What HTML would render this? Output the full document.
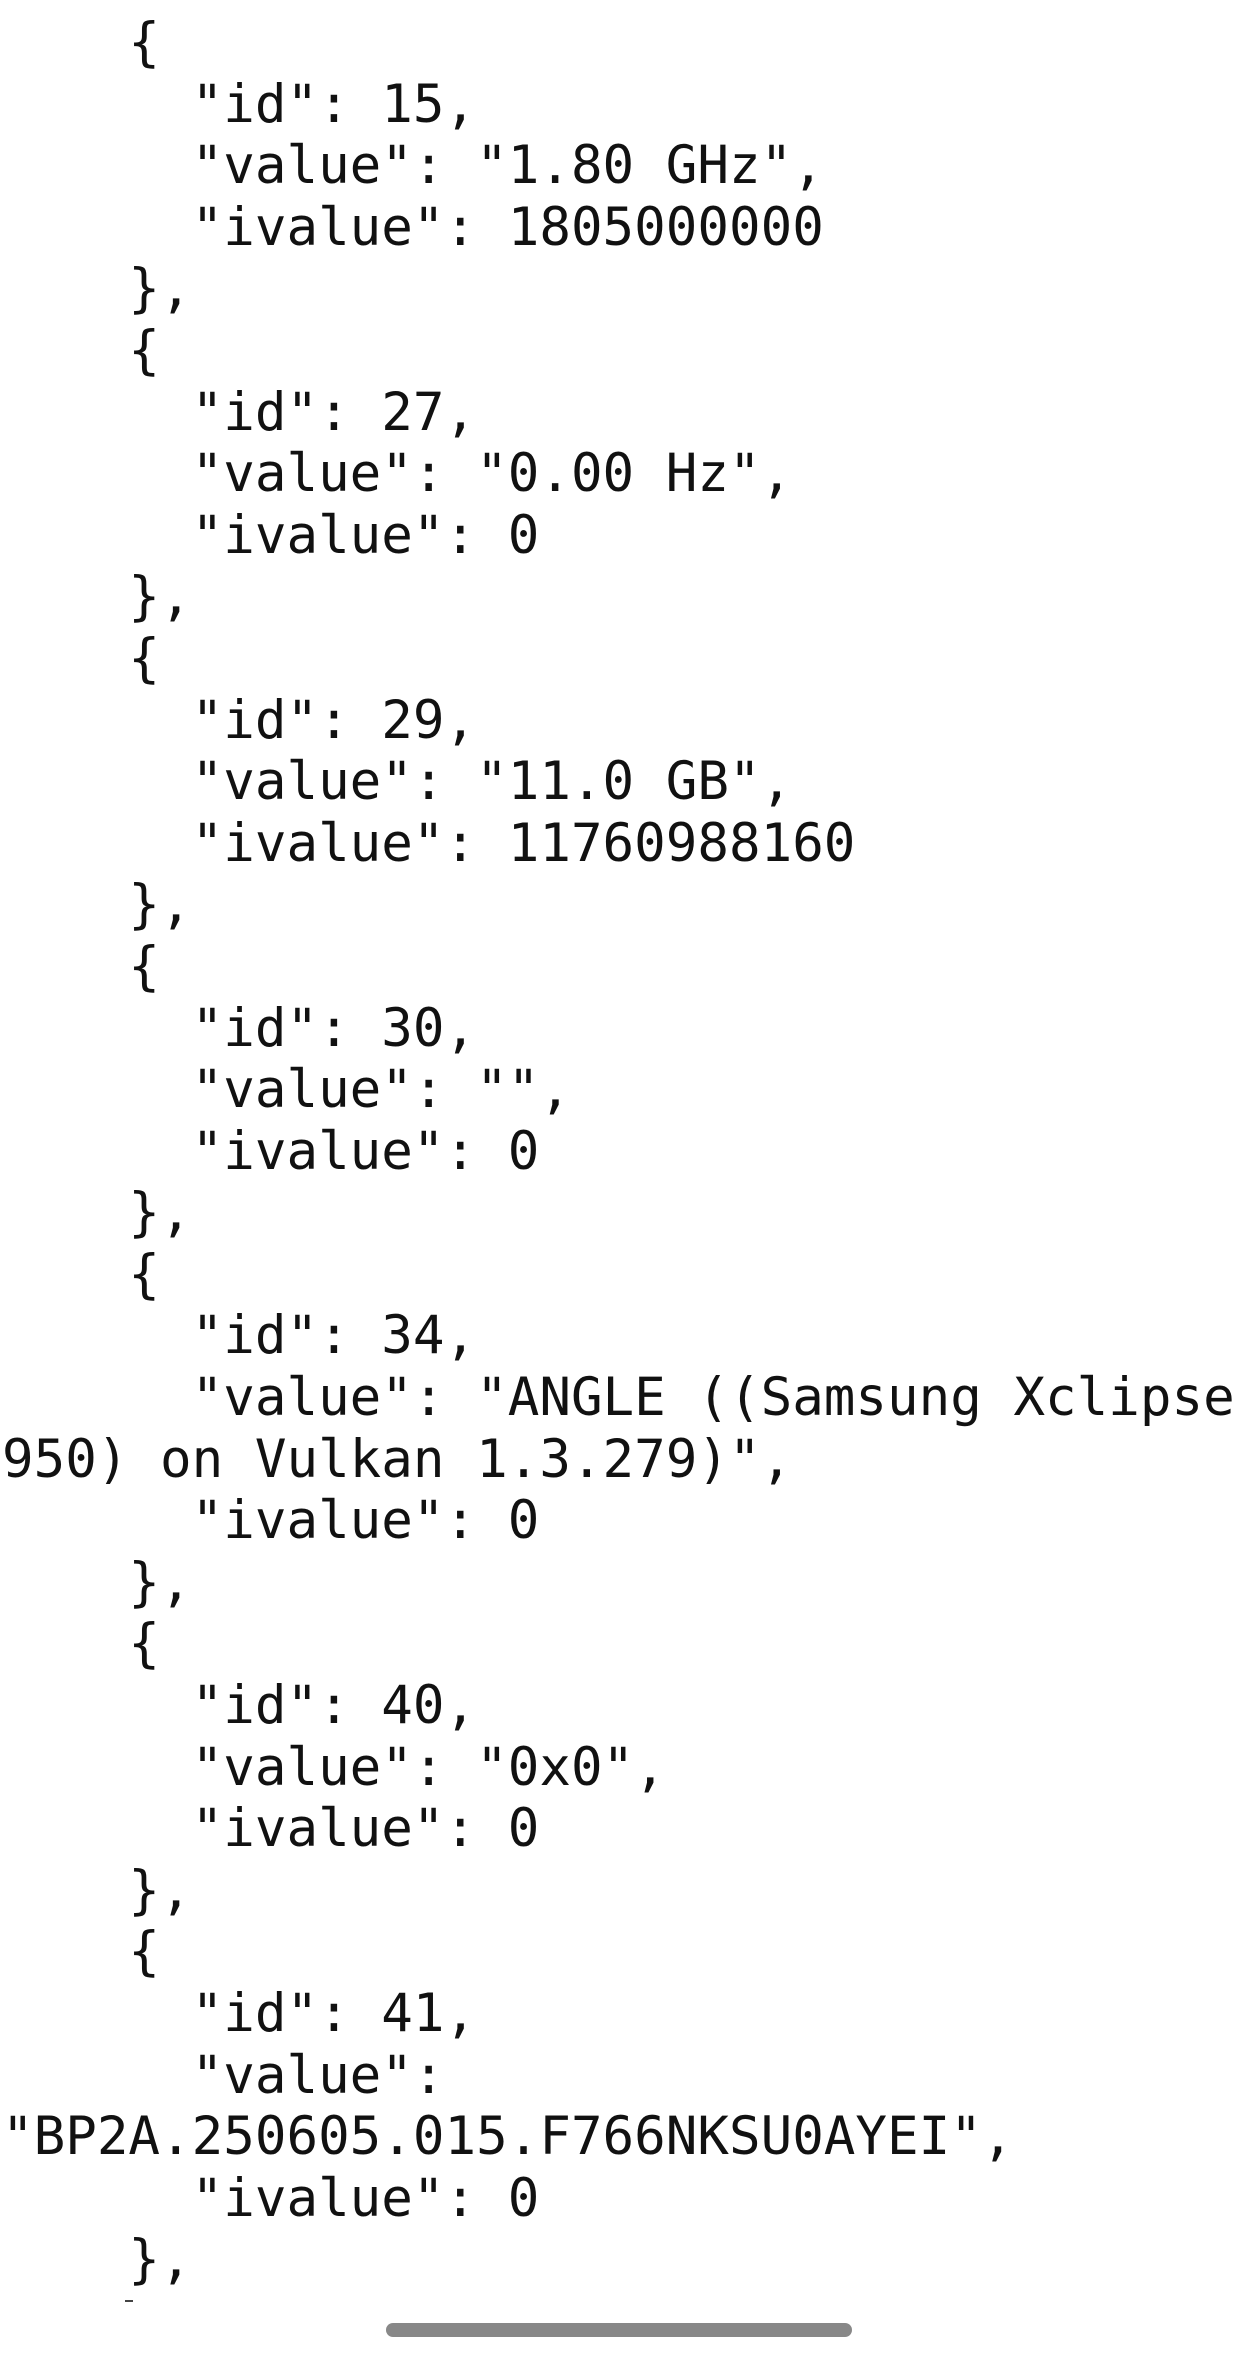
<!DOCTYPE html>
<html><head><meta charset="utf-8"><style>
html,body{margin:0;padding:0;background:#fff;}
body{width:1240px;height:2374px;position:relative;overflow:hidden;}
pre{position:absolute;left:2px;top:12px;margin:0;font-family:"DejaVu Sans Mono","Liberation Mono",monospace;font-size:52.5px;line-height:61.6px;color:#111;}
.bar{position:absolute;left:386px;top:2323px;width:466px;height:14px;border-radius:7px;background:#888;}
.dash{position:absolute;left:125px;top:2300px;width:8px;height:2px;background:#444;}
</style></head><body>
<pre>    {
      "id": 15,
      "value": "1.80 GHz",
      "ivalue": 1805000000
    },
    {
      "id": 27,
      "value": "0.00 Hz",
      "ivalue": 0
    },
    {
      "id": 29,
      "value": "11.0 GB",
      "ivalue": 11760988160
    },
    {
      "id": 30,
      "value": "",
      "ivalue": 0
    },
    {
      "id": 34,
      "value": "ANGLE ((Samsung Xclipse
950) on Vulkan 1.3.279)",
      "ivalue": 0
    },
    {
      "id": 40,
      "value": "0x0",
      "ivalue": 0
    },
    {
      "id": 41,
      "value":
"BP2A.250605.015.F766NKSU0AYEI",
      "ivalue": 0
    },</pre>
<div class="dash"></div>
<div class="bar"></div>
</body></html>
